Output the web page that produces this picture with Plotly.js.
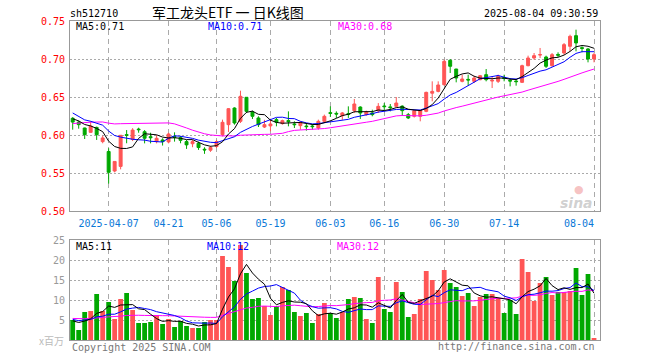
<!DOCTYPE html>
<html><head><meta charset="utf-8">
<script src="https://cdn.plot.ly/plotly-3.0.1.min.js"></script>
<style>html,body{margin:0;padding:0;background:#fff}#chart{width:660px;height:360px}</style>
</head><body><div id="chart"></div>
<script>
const dates = ['2025-03-27','2025-03-28','2025-03-31','2025-04-01','2025-04-02','2025-04-03',
'2025-04-07','2025-04-08','2025-04-09','2025-04-10','2025-04-11',
'2025-04-14','2025-04-15','2025-04-16','2025-04-17','2025-04-18',
'2025-04-21','2025-04-22','2025-04-23','2025-04-24','2025-04-25',
'2025-04-28','2025-04-29','2025-04-30',
'2025-05-06','2025-05-07','2025-05-08','2025-05-09',
'2025-05-12','2025-05-13','2025-05-14','2025-05-15','2025-05-16',
'2025-05-19','2025-05-20','2025-05-21','2025-05-22','2025-05-23',
'2025-05-26','2025-05-27','2025-05-28','2025-05-29','2025-05-30',
'2025-06-03','2025-06-04','2025-06-05','2025-06-06',
'2025-06-09','2025-06-10','2025-06-11','2025-06-12','2025-06-13',
'2025-06-16','2025-06-17','2025-06-18','2025-06-19','2025-06-20',
'2025-06-23','2025-06-24','2025-06-25','2025-06-26','2025-06-27',
'2025-06-30','2025-07-01','2025-07-02','2025-07-03','2025-07-04',
'2025-07-07','2025-07-08','2025-07-09','2025-07-10','2025-07-11',
'2025-07-14','2025-07-15','2025-07-16','2025-07-17','2025-07-18',
'2025-07-21','2025-07-22','2025-07-23','2025-07-24','2025-07-25',
'2025-07-28','2025-07-29','2025-07-30','2025-07-31','2025-08-01',
'2025-08-04'];

const openP = [0.622,0.617,0.6092,0.6035,0.6100,0.5913,
0.5783,0.5526,0.5587,0.6005,0.5943,
0.6078,0.6043,0.5978,0.5913,0.5935,
0.5909,0.5980,0.5965,0.5913,0.5885,
0.5891,0.5813,0.5800,
0.5848,0.6004,0.6136,0.6355,
0.6180,0.6496,0.6303,0.6224,0.6105,
0.6120,0.6202,0.6150,0.6190,0.6145,
0.6123,0.6118,0.6118,0.6092,0.6180,
0.6294,0.6285,0.6254,0.6281,
0.6320,0.6368,0.6268,0.6290,0.6320,
0.6382,0.6370,0.6377,0.6380,0.6268,
0.6246,0.6246,0.6311,0.6550,0.6574,
0.6662,0.6982,0.6868,0.6706,0.6732,
0.6706,0.6728,0.6794,0.6710,0.6706,
0.6754,0.6719,0.6710,0.6693,0.6912,
0.7013,0.7053,0.7026,0.6912,0.7060,
0.7079,0.7167,0.7307,0.7149,0.7132,
0.7000];
const highP = [0.6235,0.619,0.6096,0.618,0.611,0.599,
0.5826,0.5652,0.6000,0.6065,0.609,
0.6096,0.6065,0.603,0.600,0.5957,
0.603,0.6035,0.5987,0.5935,0.5935,
0.5913,0.5839,0.5857,
0.5935,0.6202,0.6355,0.6364,
0.6583,0.6500,0.632,0.6246,0.620,
0.6215,0.6224,0.6202,0.6311,0.618,
0.618,0.6158,0.6145,0.6202,0.6268,
0.6377,0.6311,0.6303,0.6377,
0.6474,0.6377,0.632,0.6333,0.642,
0.642,0.6408,0.650,0.639,0.629,
0.6333,0.6333,0.657,0.6706,0.6706,
0.6991,0.700,0.687,0.6794,0.6794,
0.678,0.679,0.6868,0.6772,0.6794,
0.6794,0.675,0.6737,0.6925,0.7044,
0.7079,0.7145,0.7044,0.7079,0.7088,
0.721,0.732,0.7386,0.7167,0.7145,
0.7079];
const lowP = [0.607,0.6083,0.5947,0.603,0.5935,0.5891,
0.5361,0.5509,0.5548,0.5891,0.592,
0.603,0.589,0.589,0.589,0.5861,
0.589,0.5913,0.5891,0.5817,0.5839,
0.5804,0.5752,0.5778,
0.583,0.5982,0.604,0.6136,
0.6158,0.6289,0.621,0.6105,0.6092,
0.6048,0.6114,0.6136,0.6114,0.6092,
0.607,0.6057,0.607,0.607,0.617,
0.6237,0.6224,0.620,0.6224,
0.629,0.6211,0.6254,0.6246,0.629,
0.6325,0.6311,0.6364,0.625,0.621,
0.623,0.618,0.630,0.6443,0.6561,
0.6649,0.6816,0.6693,0.6693,0.6649,
0.6684,0.672,0.6706,0.6618,0.6684,
0.6706,0.664,0.6649,0.6684,0.6904,
0.6991,0.7013,0.6882,0.690,0.7026,
0.7057,0.7101,0.7101,0.7088,0.6956,
0.6956];
const closeP = [0.617,0.6136,0.6004,0.6117,0.6004,0.5961,
0.5509,0.5652,0.5996,0.5995,0.6065,
0.6070,0.5957,0.5965,0.5957,0.5913,
0.6013,0.5970,0.5930,0.5870,0.5913,
0.5835,0.5804,0.5835,
0.5913,0.6167,0.6346,0.6158,
0.6509,0.6311,0.6246,0.6136,0.6136,
0.6145,0.6167,0.6189,0.6175,0.6136,
0.6158,0.6110,0.6110,0.6180,0.6246,
0.6285,0.6276,0.6290,0.6270,
0.6408,0.6289,0.6303,0.6268,0.6377,
0.6373,0.6360,0.6421,0.6320,0.6224,
0.6320,0.6320,0.6561,0.6574,0.6658,
0.6969,0.6904,0.6750,0.6737,0.6724,
0.6750,0.6780,0.6728,0.6719,0.6772,
0.6745,0.6710,0.6702,0.6912,0.7013,
0.7044,0.7057,0.6904,0.7057,0.7050,
0.7189,0.7298,0.7211,0.7140,0.7000,
0.7057];
// closes of the 29 sessions before the window (read back from the MA lines)
const priorClose = [0.588,0.592,0.590,0.596,0.593,0.598,0.595,0.591,0.594,0.597,0.600,0.596,0.592,0.595,0.598,0.590,
0.635,0.662,0.680,0.679,0.660,0.645,0.630,0.625,0.623,0.628,0.624,0.621,0.617];

// volume, millions
const volume = [5.0,2.5,7.0,7.25,11.5,7.25,
9.5,5.25,10.25,11.75,7.5,
4.25,4.25,4.5,6.25,4.0,
5.25,3.25,4.75,3.5,3.0,
3.0,4.5,5.0,
5.0,21.0,18.25,14.75,
23.75,16.75,10.25,10.5,8.5,
6.25,8.5,13.25,12.5,7.0,
6.0,6.75,4.25,6.5,9.25,
6.75,5.5,7.0,10.25,
10.75,10.5,5.25,4.25,15.75,
7.75,7.0,14.5,12.0,5.75,
6.5,10.25,17.25,15.0,12.5,
17.5,14.25,13.25,11.0,11.75,
8.5,10.75,11.5,11.5,10.5,
6.75,10.0,6.5,20.25,17.0,
9.75,14.25,15.75,11.25,12.0,
12.0,12.25,18.0,11.25,16.5,
0.5];
const priorVolume = [5.5,6.0,4.8,5.2,6.5,5.0,4.6,5.8,6.2,5.4,5.0,5.6,6.4,5.2,4.9,5.5,6.0,5.3,5.7,5.4,
5.8,5.2,6.1,4.9,5.6,4.6,5.2,4.4,4.8];

const tickDates = ['2025-04-07','2025-04-21','2025-05-06','2025-05-19','2025-06-03','2025-06-16','2025-06-30','2025-07-14','2025-08-04'];
const tickLabels = ['2025-04-07','04-21','05-06','05-19','06-03','06-16','06-30','07-14','08-04\u00a0\u00a0\u00a0\u00a0\u00a0'];
const priceTicks = [0.50,0.55,0.60,0.65,0.70,0.75];
const priceTickText = ['0.50','0.55','0.60','0.65','0.70','0.75'];
const volTicks = [5,10,15,20,25];
const volTickText = ['5','10','15','20','25'];

function sma(prior, values, n){
  const all = prior.concat(values);
  return values.map((_, i) => {
    const end = prior.length + i;
    let s = 0;
    for (let k = end - n + 1; k <= end; k++) s += all[k];
    return s / n;
  });
}

const RED = '#ff5555', GREEN = '#00a800';
const MONO = 'DejaVu Sans Mono';
const volColors = closeP.map((c, i) => c >= openP[i] ? RED : GREEN);

const traces = [
  {type:'candlestick', x:dates, open:openP, high:highP, low:lowP, close:closeP,
   xaxis:'x', yaxis:'y', whiskerwidth:0, hoverinfo:'skip',
   increasing:{line:{color:RED,width:1}, fillcolor:RED},
   decreasing:{line:{color:GREEN,width:1}, fillcolor:GREEN}},
  {type:'scatter', mode:'lines', x:dates, y:sma(priorClose, closeP, 30), xaxis:'x', yaxis:'y', line:{color:'#ff00ff', width:1}, hoverinfo:'skip'},
  {type:'scatter', mode:'lines', x:dates, y:sma(priorClose, closeP, 10), xaxis:'x', yaxis:'y', line:{color:'#0000ff', width:1}, hoverinfo:'skip'},
  {type:'scatter', mode:'lines', x:dates, y:sma(priorClose, closeP, 5), xaxis:'x', yaxis:'y', line:{color:'#000000', width:1}, hoverinfo:'skip'},
  {type:'bar', x:dates, y:volume, xaxis:'x2', yaxis:'y2', marker:{color:volColors, line:{width:0}}, hoverinfo:'skip'},
  {type:'scatter', mode:'lines', x:dates, y:sma(priorVolume, volume, 30), xaxis:'x2', yaxis:'y2', line:{color:'#ff00ff', width:1}, hoverinfo:'skip'},
  {type:'scatter', mode:'lines', x:dates, y:sma(priorVolume, volume, 10), xaxis:'x2', yaxis:'y2', line:{color:'#0000ff', width:1}, hoverinfo:'skip'},
  {type:'scatter', mode:'lines', x:dates, y:sma(priorVolume, volume, 5), xaxis:'x2', yaxis:'y2', line:{color:'#000000', width:1}, hoverinfo:'skip'}
];

// plot area in pixels: x 70..600, y 21..340
const L = 70, R = 600, T = 21, B = 340;
function px(x){ return (x - L) / (R - L); }
function py(y){ return (B - y) / (B - T); }
function ann(text, x, y, opt){
  return Object.assign({text:text, xref:'paper', yref:'paper', x:px(x), y:py(y), showarrow:false,
    xanchor:'left', yanchor:'middle', font:{family:MONO, size:10, color:'#000'}}, opt || {});
}

const xCommon = {type:'category', range:[-0.45, 88.0], tickvals:tickDates, ticktext:tickLabels,
  showgrid:true, gridcolor:'#aaaaaa', gridwidth:1, griddash:'5px,4px', zeroline:false,
  showline:true, mirror:true, linecolor:'#999999', linewidth:1, ticks:'', fixedrange:true,
  rangeslider:{visible:false}};

const layout = {
  width:660, height:360, autosize:false,
  margin:{l:L, r:660-R, t:T, b:360-B, pad:0},
  paper_bgcolor:'#fff', plot_bgcolor:'#fff', showlegend:false, hovermode:false,
  font:{family:MONO, size:10},
  bargap:0.2,
  xaxis:Object.assign({}, xCommon, {anchor:'y', showticklabels:true, ticklabelstandoff:3,
    tickfont:{family:MONO, size:10, color:'#0a78d7'}}),
  xaxis2:Object.assign({}, xCommon, {anchor:'y2', showticklabels:false}),
  yaxis:{domain:[(B-211)/(B-T), 1], range:[0.5, 0.75], tickvals:priceTicks, ticktext:priceTickText,
    tickfont:{family:MONO, size:10, color:'#ff0000'}, showgrid:true, gridcolor:'#aaaaaa', griddash:'2px,2px',
    zeroline:false, showline:true, mirror:true, linecolor:'#999999', linewidth:1, ticks:'', ticklabelstandoff:2, fixedrange:true},
  yaxis2:{domain:[0, (B-240)/(B-T)], range:[0, 25], tickvals:volTicks, ticktext:volTickText,
    tickfont:{family:MONO, size:10, color:'#999999'}, showgrid:true, gridcolor:'#aaaaaa', griddash:'2px,2px',
    zeroline:false, showline:true, mirror:true, linecolor:'#999999', linewidth:1, ticks:'', ticklabelstandoff:2, fixedrange:true},
  annotations:[
    ann('sh512710', 68, 13),
    ann('军工龙头ETF 一 日K线图', 150, 12, {font:{family:'Noto Sans CJK SC', size:14, color:'#000'}}),
    ann('2025-08-04 09:30:59', 600, 13, {xanchor:'right'}),
    ann('MA5:0.71', 74, 26.5),
    ann('MA10:0.71', 206, 26.5, {font:{family:MONO, size:10, color:'#0000ff'}}),
    ann('MA30:0.68', 336, 26.5, {font:{family:MONO, size:10, color:'#ff00ff'}}),
    ann('MA5:11', 74, 246.5),
    ann('MA10:12', 205, 246.5, {font:{family:MONO, size:10, color:'#0000ff'}}),
    ann('MA30:12', 335, 246.5, {font:{family:MONO, size:10, color:'#ff00ff'}}),
    ann('x百万', 66, 341, {xanchor:'right', font:{family:'Noto Sans CJK SC', size:10, color:'#bbbbbb'}}),
    ann('Copyright 2025 SINA.COM', 70, 347, {font:{family:MONO, size:10, color:'#777777'}}),
    ann('http://finance.sina.com.cn', 597, 346, {xanchor:'right', font:{family:MONO, size:10, color:'#777777'}}),
    ann('●', 579, 189, {xanchor:'center', font:{family:'DejaVu Sans', size:11, color:'rgba(235,120,120,0.45)'}}),
    ann('<b><i>sina</i></b>', 576, 203, {xanchor:'center', font:{family:'DejaVu Sans', size:14, color:'rgba(150,150,150,0.45)'}})
  ]
};

Plotly.newPlot('chart', traces, layout, {staticPlot:true, displayModeBar:false});
</script></body></html>
